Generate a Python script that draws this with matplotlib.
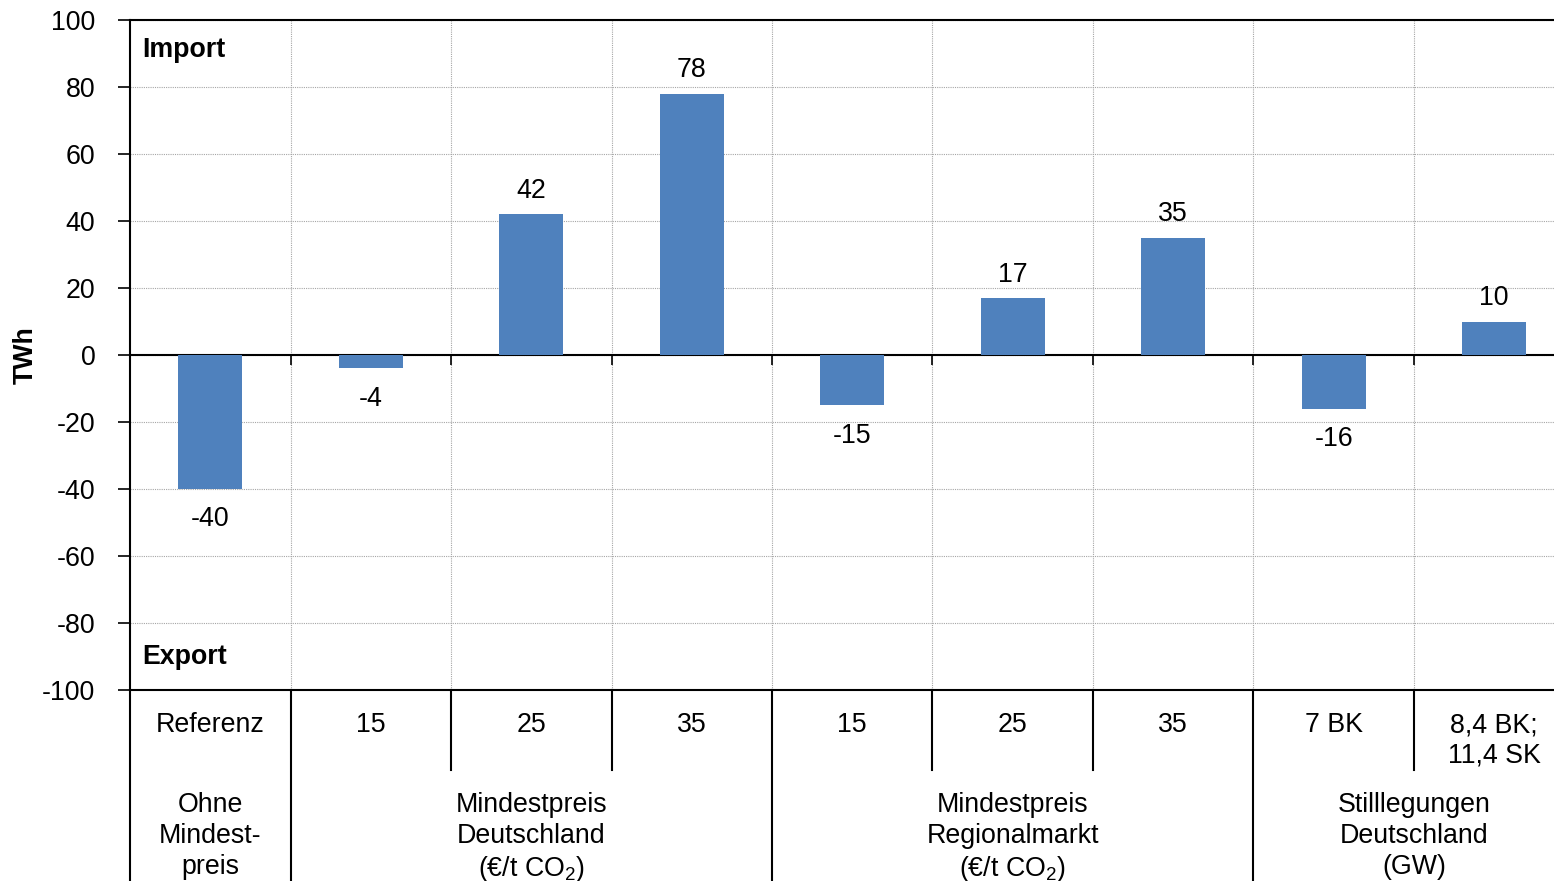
import matplotlib
matplotlib.use("Agg")
import matplotlib.pyplot as plt
import matplotlib.transforms as mtransforms
import numpy as np

plt.rcParams['font.family'] = ['Liberation Sans', 'DejaVu Sans']
plt.rcParams['mathtext.fontset'] = 'custom'
plt.rcParams['mathtext.rm'] = 'Liberation Sans'

# ---- data ----
categories = ["Referenz", "15", "25", "35", "15", "25", "35", "7 BK", "8,4 BK;\n11,4 SK"]
values = [-40, -4, 42, 78, -15, 17, 35, -16, 10]
groups = ["Ohne\nMindest-\npreis",
          "Mindestpreis\nDeutschland\n(€/t CO$_\\mathregular{2}$)",
          "Mindestpreis\nRegionalmarkt\n(€/t CO$_\\mathregular{2}$)",
          "Stilllegungen\nDeutschland\n(GW)"]
group_sizes = [1, 3, 3, 2]
yticks = [-100, -80, -60, -40, -20, 0, 20, 40, 60, 80, 100]

W, H = 1554, 881
FS = 19.3
bar_color = "#4F81BD"

fig = plt.figure(figsize=(W / 100, H / 100), dpi=100)
left, right, top, bottom = 130, 1574.5, 20, 690
ax = fig.add_axes([left / W, (H - bottom) / H, (right - left) / W, (bottom - top) / H])

n = len(categories)
x = np.arange(n)
ax.bar(x, values, width=0.4, color=bar_color, zorder=3)

ax.set_xlim(-0.5, n - 0.5)
ax.set_ylim(-100, 100)

# y axis
ax.set_yticks(yticks)
ax.set_yticklabels([str(t) for t in yticks], fontsize=FS)
ax.tick_params(axis='y', direction='out', length=9, width=1.2, pad=16, colors='black')
ax.set_ylabel("TWh", fontsize=FS, fontweight='bold', labelpad=2)

# x axis: spine at zero, ticks at category boundaries
boundaries = np.arange(n + 1) - 0.5
ax.set_xticks(boundaries[1:-1])
ax.set_xticklabels([])
ax.tick_params(axis='x', direction='out', length=7, width=1.2, colors='black')
ax.spines['bottom'].set_position(('data', 0))
ax.spines['bottom'].set_linewidth(1.5)
ax.spines['left'].set_linewidth(1.5)
ax.spines['top'].set_linewidth(1.5)
ax.spines['right'].set_visible(False)

ax.grid(True, color='#a6a6a6', linestyle=(0, (1, 1)), linewidth=0.8, zorder=0)
ax.set_axisbelow(True)
ax.axhline(-100, color='black', linewidth=1.5, clip_on=False, zorder=4)

# value labels
for xi, v in zip(x, values):
    if v >= 0:
        ax.annotate(str(v), (xi, v), xytext=(0, 7.5), textcoords='offset points',
                    ha='center', va='bottom', fontsize=FS)
    else:
        ax.annotate(str(v), (xi, v), xytext=(0, -12.5), textcoords='offset points',
                    ha='center', va='top', fontsize=FS)

# Import / Export
ax.text(12 / (right - left), (bottom - 50) / (bottom - top), "Import", transform=ax.transAxes,
        fontsize=FS, fontweight='bold', ha='left', va='center')
ax.text(12 / (right - left), (bottom - 657) / (bottom - top), "Export", transform=ax.transAxes,
        fontsize=FS, fontweight='bold', ha='left', va='center')

# category table below
trans = mtransforms.blended_transform_factory(ax.transData, ax.transAxes)
ah = bottom - top
def yfrac(py):
    return (bottom - py) / ah

group_edges = np.cumsum([0] + group_sizes) - 0.5
for b in boundaries[:-1]:
    if np.any(np.isclose(group_edges, b)):
        y_end = yfrac(H + 5)
    else:
        y_end = yfrac(770)
    ax.plot([b, b], [0, y_end], transform=trans, color='black', linewidth=1.5,
            clip_on=False, zorder=4)

LS = 1.25
for xi, cat in zip(x, categories):
    ax.text(xi, yfrac(712), cat, transform=trans, ha='center', va='top',
            fontsize=FS, linespacing=LS)

for gi, g in enumerate(groups):
    center = (group_edges[gi] + group_edges[gi + 1]) / 2
    ax.text(center, yfrac(792), g, transform=trans, ha='center', va='top',
            fontsize=FS, linespacing=LS)

fig.savefig("out.png", dpi=100)
